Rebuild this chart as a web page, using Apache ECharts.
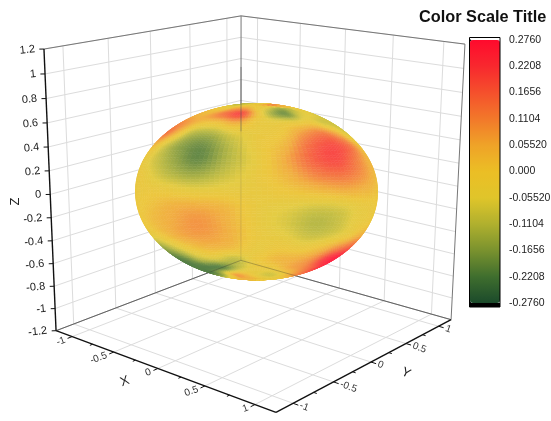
<!DOCTYPE html>
<html><head><meta charset="utf-8">
<style>html,body{margin:0;padding:0;background:#fff}#c{width:551px;height:421px}</style>
<script src="https://cdn.jsdelivr.net/npm/echarts@6/dist/echarts.min.js"></script>
</head><body><div id="c"></div>
<script>
const axisLimit = 1.2;
const xTicks = [-1, -0.5, 0, 0.5, 1];
const xMinorTicks = [-0.75, -0.25, 0.25, 0.75];
const yTicks = [-1, -0.5, 0, 0.5, 1];
const yMinorTicks = [-0.75, -0.25, 0.25, 0.75];
const xTickLabels = ['-1', '-0.5', '0', '0.5', '1'];
const yTickLabels = ['-1', '-0.5', '0', '0.5', '1'];
const zTicks = [-1.2, -1, -0.8, -0.6, -0.4, -0.2, 0, 0.2, 0.4, 0.6, 0.8, 1, 1.2];
const zTickLabels = ['-1.2', '-1', '-0.8', '-0.6', '-0.4', '-0.2', '0', '0.2', '0.4', '0.6', '0.8', '1', '1.2'];
const scaleTicks = ['-0.2760', '-0.2208', '-0.1656', '-0.1104', '-0.05520', '0.000', '0.05520', '0.1104', '0.1656', '0.2208', '0.2760'];
const scaleColors = ['#1B4A2B', '#3F6E2E', '#7A922E', '#B0B02E', '#E0C52A', '#EBBE25', '#EFA328', '#F2782A', '#F5502C', '#F8282E', '#FF0A2D'];
const scaleMin = -0.276, scaleMax = 0.276, scaleStep = 0.0552;

/* Surface value: rows go from the top of the visible cap to the bottom,
   columns from the left rim to the right rim. */
const viewLat = [90, 80, 70, 60, 50, 40, 30, 20, 10, 0, -10, -20, -30, -40, -50, -60, -70, -80, -90];
const viewLon = [-90, -75, -60, -45, -30, -15, 0, 15, 30, 45, 60, 75, 90];
const lat90  = [-.06,-.06,-.06,-.06,-.06,-.06,-.06,-.06,-.06,-.06,-.06,-.06,-.06];
const lat80  = [-.08,-.09,-.1,-.1,-.08,-.04,-.01,.05,.1,.12,.1,.07,.05];
const lat70  = [0,0,-.01,-.02,.05,.06,-.01,-.06,-.12,-.11,-.06,-.03,-.02];
const lat60  = [.04,.04,.03,.08,.15,.2,.02,-.13,-.18,-.08,-.05,-.06,-.07];
const lat50  = [.1,.1,.07,.01,.01,.06,-.02,-.04,-.03,-.01,-.07,-.08,-.08];
const lat40  = [.13,.12,.03,-.1,-.12,-.06,-.03,-.01,.08,.13,.07,-.03,-.07];
const lat30  = [.03,.01,-.08,-.16,-.19,-.11,-.03,.03,.15,.2,.16,.06,-.01];
const lat20  = [-.02,-.04,-.09,-.15,-.2,-.12,-.04,.06,.17,.2,.13,.06,.03];
const lat10  = [-.02,-.02,-.06,-.11,-.14,-.09,-.03,.04,.12,.14,.1,.05,.02];
const lat0   = [-.02,-.02,-.02,-.03,-.05,-.04,-.03,0,.03,.05,.04,.02,0];
const latS10 = [-.01,-.01,.01,.04,.05,.03,-.03,-.05,-.07,-.06,-.03,-.02,-.01];
const latS20 = [-.01,0,.03,.06,.09,.05,-.03,-.07,-.11,-.09,-.04,-.02,-.01];
const latS30 = [-.03,-.03,.01,.06,.08,.05,-.02,-.05,-.09,-.07,-.02,.04,.05];
const latS40 = [-.14,-.13,-.08,-.01,.03,.02,-.03,-.01,-.02,.03,.11,.16,.17];
const latS50 = [-.21,-.21,-.18,-.1,-.07,-.1,-.02,.03,.05,.1,.22,.27,.27];
const latS60 = [-.22,-.22,-.22,-.22,-.2,-.09,-.03,-.02,.05,.09,.15,.2,.23];
const latS70 = [-.2,-.2,-.19,-.09,.06,.03,-.04,-.08,-.06,.02,.07,.1,.12];
const latS80 = [-.02,0,.02,.04,.05,.04,.02,-.02,-.05,-.05,-.03,-.02,-.02];
const latS90 = [0,0,0,0,0,0,0,0,0,0,0,0,0];
const surfaceRows = [lat90,lat80,lat70,lat60,lat50,lat40,lat30,lat20,lat10,lat0,latS10,latS20,latS30,latS40,latS50,latS60,latS70,latS80,latS90];
const radii = [1, 1, 0.7];

/* Camera: a least-squares projective fit to the box corners seen in the picture. */
const L = axisLimit;
const corners = [[-L,-L,-L,56,331],[L,-L,-L,276,412],[L,L,-L,451,320],[-L,L,-L,241,260],[-L,-L,L,44,49],[-L,L,L,241,16],[L,L,L,465,44]];
function solve(A, b) {
  const n = b.length, M = A.map((r, i) => r.concat(b[i]));
  for (let i = 0; i < n; i++) {
    let p = i; for (let k = i + 1; k < n; k++) if (Math.abs(M[k][i]) > Math.abs(M[p][i])) p = k;
    [M[i], M[p]] = [M[p], M[i]];
    for (let k = 0; k < n; k++) if (k !== i) { const f = M[k][i] / M[i][i]; for (let j = i; j <= n; j++) M[k][j] -= f * M[i][j]; }
  }
  return M.map((r, i) => r[n] / r[i]);
}
const rowsA = [], rowsB = [];
corners.forEach(([X, Y, Z, u, v]) => {
  rowsA.push([X, Y, Z, 1, 0, 0, 0, 0, -u * X, -u * Y, -u * Z]); rowsB.push(u);
  rowsA.push([0, 0, 0, 0, X, Y, Z, 1, -v * X, -v * Y, -v * Z]); rowsB.push(v);
});
const NtN = rowsA[0].map((_, i) => rowsA[0].map((_, j) => rowsA.reduce((s, r) => s + r[i] * r[j], 0)));
const Ntb = rowsA[0].map((_, i) => rowsA.reduce((s, r, k) => s + r[i] * rowsB[k], 0));
const P = solve(NtN, Ntb);
function project(p) {
  const w = P[8] * p[0] + P[9] * p[1] + P[10] * p[2] + 1;
  return [(P[0] * p[0] + P[1] * p[1] + P[2] * p[2] + P[3]) / w, (P[4] * p[0] + P[5] * p[1] + P[6] * p[2] + P[7]) / w];
}
const cam = solve([[P[0],P[1],P[2]],[P[4],P[5],P[6]],[P[8],P[9],P[10]]], [-P[3],-P[7],-1]);
const camS = cam.map((c, i) => c / radii[i]);
const camD = Math.hypot(...camS);
const toward = camS.map(c => c / camD);
const rn = Math.hypot(toward[0], toward[1]);
const right = [-toward[1] / rn, toward[0] / rn, 0];
const up = [toward[1] * right[2] - toward[2] * right[1], toward[2] * right[0] - toward[0] * right[2], toward[0] * right[1] - toward[1] * right[0]];
const capAngle = Math.acos(1 / camD);
function surfacePoint(latDeg, lonDeg) {
  const la = latDeg * Math.PI / 180, lo = lonDeg * Math.PI / 180;
  const a = Math.sin(lo) * Math.cos(la), b = Math.sin(la), c = Math.cos(lo) * Math.cos(la);
  const th = Math.acos(Math.min(1, Math.max(-1, c))), k = th < 1e-6 ? 0 : Math.sin(th * capAngle / (Math.PI / 2)) / Math.sin(th);
  const cc = Math.cos(th * capAngle / (Math.PI / 2));
  return [0, 1, 2].map(i => (toward[i] * cc + (right[i] * a + up[i] * b) * k) * radii[i]);
}
function colorOf(v) {
  const t = Math.max(0, Math.min(1, (v - scaleMin) / (scaleMax - scaleMin)));
  return echarts.color.lerp(0.12, [echarts.color.lerp(t, scaleColors), '#ffffff']);
}

/* Box, grid and ticks */
const lines = [];
const gridStyle = { stroke: '#dcdcdc', lineWidth: 1 }, frameStyle = { stroke: '#777777', lineWidth: 1 }, axisStyle = { stroke: '#111111', lineWidth: 1.4 }, tickStyle = { stroke: '#111111', lineWidth: 1 };
function seg(a, b, style) { lines.push({ a, b, style }); }
zTicks.forEach(z => {
  seg([-L,-L,z],[-L,L,z],gridStyle); seg([-L,L,z],[L,L,z],gridStyle);
  seg([-L,-L,z],[-L-.026,-L-.026,z],tickStyle);
});
yTicks.forEach(y => { seg([-L,y,-L],[-L,y,L],gridStyle); seg([-L,y,-L],[L,y,-L],gridStyle); });
xTicks.forEach(x => { seg([x,L,-L],[x,L,L],gridStyle); seg([x,-L,-L],[x,L,-L],gridStyle); });
seg([-L,-L,L],[-L,L,L],frameStyle); seg([-L,L,L],[L,L,L],frameStyle);
seg([-L,L,-L],[-L,L,L],frameStyle); seg([L,L,-L],[L,L,L],frameStyle);
seg([-L,-L,-L],[-L,L,-L],frameStyle); seg([-L,L,-L],[L,L,-L],frameStyle);
seg([-L,-L,-L],[-L,-L,L],axisStyle); seg([-L,-L,-L],[L,-L,-L],axisStyle); seg([L,-L,-L],[L,L,-L],axisStyle);
xTicks.forEach(x => seg([x,-L,-L],[x,-L-.05,-L],tickStyle));
xMinorTicks.forEach(x => seg([x,-L,-L],[x,-L-.03,-L],tickStyle));
yTicks.forEach(y => seg([L,y,-L],[L+.05,y,-L],tickStyle));
yMinorTicks.forEach(y => seg([L,y,-L],[L+.03,y,-L],tickStyle));

/* Lines that show faintly through the translucent surface */
const through = [
  { a: [-L,L,0.1], b: [-L,L,0.72], style: { stroke: '#555555', lineWidth: 1, opacity: .55 } },
  { a: [-L,L,-L], b: [-L,L,0.1], style: { stroke: '#555555', lineWidth: 1, opacity: .16 } },
  { a: [-L,L,-L], b: [L,L,-L], style: { stroke: '#333333', lineWidth: 1, opacity: .3 } },
  { a: [-L,L,-L], b: [-L,-L,-L], style: { stroke: '#333333', lineWidth: 1, opacity: .3 } }
];

const labels = [];
const tickFont = '10px "Liberation Sans"', zFont = '11px "Liberation Sans"', titleFont = '13px "Liberation Sans"';
zTicks.forEach((z, i) => labels.push({ p: [-L,-L,z], dx: -9, dy: 0, text: zTickLabels[i], align: 'right', rot: 6, font: zFont, fill: '#222' }));
xTicks.forEach((x, i) => labels.push({ p: [x,-L,-L], dx: -7, dy: 3, text: xTickLabels[i], align: 'right', rot: 20, font: tickFont, fill: '#333' }));
yTicks.forEach((y, i) => labels.push({ p: [L,y,-L], dx: 7, dy: 2, text: yTickLabels[i], align: 'left', rot: -20, font: tickFont, fill: '#333' }));
labels.push({ p: [0,-L,-L], dx: -33, dy: 13, text: 'X', align: 'center', rot: 20, font: titleFont, fill: '#222' });
labels.push({ p: [L,0,-L], dx: 35, dy: 11, text: 'Y', align: 'center', rot: -25, font: titleFont, fill: '#222' });
labels.push({ p: [-L,-L,0], dx: -35, dy: 7, text: 'Z', align: 'center', rot: 90, font: titleFont, fill: '#222' });

function lineItem(list) {
  return (params, api) => {
    const l = list[params.dataIndex], a = api.coord(project(l.a)), b = api.coord(project(l.b));
    return { type: 'line', shape: { x1: a[0], y1: a[1], x2: b[0], y2: b[1] }, style: l.style, silent: true };
  };
}
const cellData = [];
for (let r = 0; r < viewLat.length - 1; r++) for (let c = 0; c < viewLon.length - 1; c++) cellData.push([r, c, surfaceRows[r][c]]);
const SUB = 6;
/* smooth shading between the read values inside each mark */
function cr(a, b, c, d, t) { return b + .5 * t * (c - a + t * (2 * a - 5 * b + 4 * c - d + t * (3 * (b - c) + d - a))); }
function shade(r, c, u, w) {
  const R = i => surfaceRows[Math.max(0, Math.min(surfaceRows.length - 1, i))];
  const at = (row, i) => row[Math.max(0, Math.min(row.length - 1, i))];
  const h = i => { const row = R(i); return cr(at(row, c - 1), at(row, c), at(row, c + 1), at(row, c + 2), u); };
  return cr(h(r - 1), h(r), h(r + 1), h(r + 2), w);
}
function renderCell(params, api) {
  const r = api.value(0), c = api.value(1), kids = [];
  const pt = (u, w) => api.coord(project(surfacePoint(viewLat[r] + (viewLat[r + 1] - viewLat[r]) * w, viewLon[c] + (viewLon[c + 1] - viewLon[c]) * u)));
  for (let i = 0; i < SUB; i++) for (let j = 0; j < SUB; j++) {
    const u0 = j / SUB, u1 = (j + 1) / SUB, w0 = i / SUB, w1 = (i + 1) / SUB;
    const pts = [pt(u0, w0), pt(u1, w0), pt(u1, w1), pt(u0, w1)];
    let area = 0; pts.forEach((p, k) => { const q = pts[(k + 1) % 4]; area += p[0] * q[1] - q[0] * p[1]; });
    if (area <= 0) continue;
    const col = colorOf(shade(r, c, (u0 + u1) / 2, (w0 + w1) / 2));
    kids.push({ type: 'polygon', shape: { points: pts }, style: { fill: col, stroke: col, lineWidth: .6 } });
  }
  return { type: 'group', children: kids, silent: true };
}

const chart = echarts.init(document.getElementById('c'), null, { renderer: 'canvas' });
chart.setOption({
  animation: false,
  backgroundColor: '#ffffff',
  title: { text: 'Color Scale Title', left: 419, top: 10, padding: 0, textStyle: { fontFamily: 'Liberation Sans', fontSize: 16.3, fontWeight: 'bold', color: '#111' } },
  grid: [
    { left: 0, top: 0, width: 551, height: 421, show: false, outerBoundsMode: 'none' },
    { left: 470, top: 40, width: 30, height: 263, show: false, outerBoundsMode: 'none' }
  ],
  xAxis: [
    { type: 'value', min: 0, max: 551, show: false, gridIndex: 0 },
    { type: 'value', min: 0, max: 1, show: false, gridIndex: 1 }
  ],
  yAxis: [
    { type: 'value', min: 0, max: 421, inverse: true, show: false, gridIndex: 0 },
    { type: 'value', gridIndex: 1, position: 'right', min: scaleMin, max: scaleMax, interval: scaleStep,
      axisLine: { show: true, lineStyle: { color: '#000', width: 1 } },
      axisTick: { show: true, length: 5, lineStyle: { color: '#000', width: 1 } },
      splitLine: { show: false },
      axisLabel: { margin: 9, fontFamily: 'Liberation Sans', fontSize: 10.5, color: '#222', formatter: (v, i) => scaleTicks[i] } }
  ],
  visualMap: { type: 'continuous', seriesIndex: 1, dimension: 2, min: scaleMin, max: scaleMax, calculable: false, hoverLink: false,
    left: 470, top: 40, itemWidth: 30, itemHeight: 263, padding: 0, text: ['', ''], showLabel: false, inRange: { color: scaleColors } },
  graphic: [
    { type: 'rect', z: 100, silent: true, shape: { x: 470, y: 303, width: 30, height: 4 }, style: { fill: '#000' } },
    { type: 'rect', z: 100, silent: true, shape: { x: 469.5, y: 37.5, width: 30.5, height: 269.5 }, style: { fill: 'none', stroke: '#000', lineWidth: 1 } }
  ],
  series: [
    { type: 'custom', coordinateSystem: 'cartesian2d', xAxisIndex: 0, yAxisIndex: 0, z: 1, silent: true, clip: false,
      data: lines.map((_, i) => [i]), renderItem: lineItem(lines) },
    { type: 'custom', coordinateSystem: 'cartesian2d', xAxisIndex: 0, yAxisIndex: 0, z: 2, silent: true, clip: false,
      data: cellData, dimensions: ['row', 'col', 'value'], encode: { x: 0, y: 1 }, renderItem: renderCell },
    { type: 'custom', coordinateSystem: 'cartesian2d', xAxisIndex: 0, yAxisIndex: 0, z: 3, silent: true, clip: false,
      data: through.map((_, i) => [i]), renderItem: lineItem(through) },
    { type: 'custom', coordinateSystem: 'cartesian2d', xAxisIndex: 0, yAxisIndex: 0, z: 4, silent: true, clip: false,
      data: labels.map((_, i) => [i]),
      renderItem: (params, api) => {
        const l = labels[params.dataIndex], p = api.coord(project(l.p));
        return { type: 'text', x: p[0] + l.dx, y: p[1] + l.dy, rotation: l.rot * Math.PI / 180, silent: true,
          style: { text: l.text, x: 0, y: 0, align: l.align, verticalAlign: 'middle', font: l.font, fill: l.fill } };
      } }
  ]
});
</script></body></html>
